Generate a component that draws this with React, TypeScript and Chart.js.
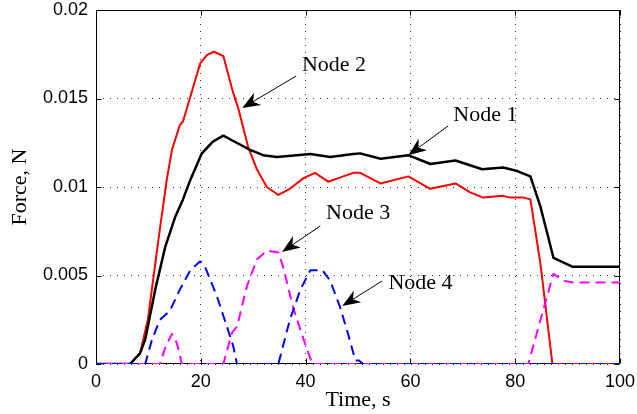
import React, { useEffect, useRef } from 'react';
import { Chart, registerables } from 'chart.js';

Chart.register(...registerables);

// ---- data ----
const xTicks = [0, 20, 40, 60, 80, 100];
const yTicks = [0, 0.005, 0.01, 0.015, 0.02];
const yTickLabels = ['0', '0.005', '0.01', '0.015', '0.02'];

const node1T = [0, 6.5, 8.4, 9.4, 11.3, 13.2, 15.1, 16.6, 18, 20.2, 22.3, 24.3, 26.2, 29.4, 31.9, 34.5, 38.3, 40.9, 44.7, 49.1, 50.4, 54.3, 59.6, 63.8, 68.6, 73.7, 77.7, 80.4, 82.9, 84.8, 86.1, 87.3, 90.9, 100];
const node1F = [0, 0, 0.0006, 0.0014, 0.0042, 0.0066, 0.0083, 0.0093, 0.0104, 0.0119, 0.01256, 0.0129, 0.0126, 0.0121, 0.0118, 0.0117, 0.0118, 0.01186, 0.0117, 0.01186, 0.0119, 0.0116, 0.0118, 0.0113, 0.0115, 0.011, 0.0111, 0.0109, 0.0106, 0.0089, 0.0074, 0.006, 0.0055, 0.0055];

const node2T = [0, 6.5, 8.4, 9.9, 11.9, 13.5, 14.5, 16, 16.6, 18, 19.9, 21.2, 22.5, 24.3, 26.2, 27.1, 29, 30.7, 32.6, 34.8, 37, 39.6, 41.8, 44.3, 47.2, 49.1, 50.4, 54.3, 59.6, 63.8, 68.6, 71.4, 73.9, 77.7, 79.1, 81.6, 82.9, 84.8, 86.1, 87.1, 100];
const node2F = [0, 0, 0.0006, 0.0025, 0.007, 0.0104, 0.0121, 0.0135, 0.0137, 0.0151, 0.017, 0.01746, 0.01764, 0.0174, 0.0153, 0.0145, 0.0123, 0.011, 0.01, 0.00955, 0.0099, 0.0105, 0.0108, 0.0103, 0.0106, 0.0108, 0.0108, 0.0102, 0.0106, 0.0099, 0.0102, 0.0097, 0.0094, 0.0095, 0.0094, 0.0094, 0.0093, 0.0057, 0.0025, 0, 0];

const node3T = [0, 12.2, 13.3, 14.5, 15.4, 16.4, 24.3, 26, 26.9, 28.8, 30.7, 32.6, 34.8, 35.7, 37.6, 39.6, 41.3, 82.5, 85.2, 87.3, 89.2, 91.1, 100];
const node3F = [0, 0, 0.001, 0.0017, 0.0012, 0, 0, 0.0018, 0.0021, 0.0044, 0.0059, 0.0064, 0.0063, 0.0055, 0.0032, 0.0014, 0, 0, 0.0029, 0.0051, 0.0047, 0.0046, 0.0046];

const node4T = [0, 9.4, 10.7, 12.2, 14.1, 16, 18, 19.9, 20.8, 23.1, 25, 26.2, 26.9, 34.8, 37, 39, 40.9, 43.2, 44.7, 46.6, 48.1, 49.5, 50.2, 51, 100];
const node4F = [0, 0, 0.0014, 0.0025, 0.003, 0.0042, 0.0053, 0.0058, 0.0055, 0.0038, 0.0021, 0.001, 0, 0, 0.0025, 0.0042, 0.0053, 0.0053, 0.0047, 0.0032, 0.0017, 0.0002, 0.0002, 0, 0];

// annotation labels (data coordinates)
const noteNames = ['Node 1', 'Node 2', 'Node 3', 'Node 4'];
const noteTextX = [68.2, 39.3, 43.9, 55.8];
const noteTextY = [0.01407, 0.0169, 0.00853, 0.00458];
const noteTailX = [67.2, 38.2, 42.8, 54.6];
const noteTailY = [0.01345, 0.01627, 0.0078, 0.00469];
const noteTipX = [59.6, 27.9, 35.5, 47.0];
const noteTipY = [0.0118, 0.01446, 0.00633, 0.00328];

const zip = (t: number[], f: number[]) => t.map((x, i) => ({ x, y: f[i] }));

const SERIF = '"Liberation Serif", "Times New Roman", serif';
const SANS = '"Liberation Sans", Arial, sans-serif';

const framePlugin = {
  id: 'frame',
  beforeDatasetsDraw(chart: any) {
    const { ctx, chartArea: a, scales } = chart;
    ctx.save();
    ctx.strokeStyle = '#000';
    ctx.lineWidth = 1;
    ctx.setLineDash([]);
    const L = Math.round(a.left) + 0.5, R = Math.round(a.right) - 0.5;
    const T = Math.round(a.top) + 0.5, B = Math.round(a.bottom) - 0.5;
    ctx.strokeRect(L, T, R - L, B - T);
    const tl = 5;
    ctx.beginPath();
    xTicks.forEach((v) => {
      const px = Math.round(scales.x.getPixelForValue(v)) + 0.5;
      ctx.moveTo(px, B); ctx.lineTo(px, B - tl);
      ctx.moveTo(px, T); ctx.lineTo(px, T + tl);
    });
    yTicks.forEach((v) => {
      const py = Math.round(scales.y.getPixelForValue(v)) + 0.5;
      ctx.moveTo(L, py); ctx.lineTo(L + tl, py);
      ctx.moveTo(R, py); ctx.lineTo(R - tl, py);
    });
    ctx.stroke();
    ctx.restore();
  },
  afterDatasetsDraw(chart: any) {
    const { ctx, scales } = chart;
    ctx.save();
    ctx.fillStyle = '#000';
    ctx.strokeStyle = '#000';
    ctx.font = `22px ${SERIF}`;
    ctx.textAlign = 'left';
    ctx.textBaseline = 'middle';
    noteNames.forEach((name, i) => {
      const tx = scales.x.getPixelForValue(noteTextX[i]);
      const ty = scales.y.getPixelForValue(noteTextY[i]);
      ctx.fillText(name, tx, ty);
      const x0 = scales.x.getPixelForValue(noteTailX[i]);
      const y0 = scales.y.getPixelForValue(noteTailY[i]);
      const x1 = scales.x.getPixelForValue(noteTipX[i]);
      const y1 = scales.y.getPixelForValue(noteTipY[i]);
      const ang = Math.atan2(y1 - y0, x1 - x0);
      const hl = 18, hw = 7, notch = 0.7;
      const ux = Math.cos(ang), uy = Math.sin(ang);
      const nx = -uy, ny = ux;
      const bx = x1 - ux * hl, by = y1 - uy * hl;
      const mx = x1 - ux * hl * notch, my = y1 - uy * hl * notch;
      ctx.lineWidth = 1;
      ctx.beginPath();
      ctx.moveTo(x0, y0);
      ctx.lineTo(mx, my);
      ctx.stroke();
      ctx.beginPath();
      ctx.moveTo(x1, y1);
      ctx.lineTo(bx + nx * hw, by + ny * hw);
      ctx.lineTo(mx, my);
      ctx.lineTo(bx - nx * hw, by - ny * hw);
      ctx.closePath();
      ctx.fill();
    });
    ctx.restore();
  },
};

export default function App() {
  const ref = useRef<HTMLCanvasElement | null>(null);
  useEffect(() => {
    const canvas = ref.current;
    if (!canvas) return;
    const chart = new Chart(canvas, {
      type: 'line',
      data: {
        datasets: [
          { label: 'Node 4', data: zip(node4T, node4F), borderColor: '#0000ff', borderWidth: 2, borderDash: [10, 6], pointRadius: 0, tension: 0, fill: false },
          { label: 'Node 3', data: zip(node3T, node3F), borderColor: '#ff00ff', borderWidth: 2, borderDash: [10, 6], borderDashOffset: 8, pointRadius: 0, tension: 0, fill: false },
          { label: 'Node 1', data: zip(node1T, node1F), borderColor: '#000000', borderWidth: 2.5, pointRadius: 0, tension: 0, fill: false },
          { label: 'Node 2', data: zip(node2T, node2F), borderColor: '#ff0000', borderWidth: 2, pointRadius: 0, tension: 0, fill: false },
        ],
      },
      options: {
        responsive: false,
        animation: false,
        devicePixelRatio: 1,
        layout: { padding: { left: 0, right: 17, top: 10, bottom: 0 } },
        plugins: { legend: { display: false }, tooltip: { enabled: false } },
        elements: { line: { borderCapStyle: 'butt', borderJoinStyle: 'round' } },
        scales: {
          x: {
            type: 'linear',
            min: 0,
            max: 100,
            afterBuildTicks: (s: any) => { s.ticks = xTicks.map((v) => ({ value: v })); },
            afterFit: (s: any) => { s.height = 50; s.paddingLeft = 0; s.paddingRight = 0; },
            ticks: { font: { family: SANS, size: 18 }, color: '#000', padding: 7, maxRotation: 0, autoSkip: false, callback: (v: any) => String(v) },
            grid: { color: '#333', lineWidth: 1, drawTicks: false },
            border: { display: false, dash: [1, 6] },
            title: { display: true, text: 'Time, s', color: '#000', font: { family: SERIF, size: 22 }, padding: { top: 1, bottom: 1 } },
          },
          y: {
            type: 'linear',
            min: 0,
            max: 0.02,
            afterBuildTicks: (s: any) => { s.ticks = yTicks.map((v) => ({ value: v })); },
            afterFit: (s: any) => { s.width = 96; s.paddingTop = 0; s.paddingBottom = 0; },
            ticks: { font: { family: SANS, size: 18 }, color: '#000', padding: 8, autoSkip: false, callback: (v: any) => { const i = yTicks.findIndex((t) => Math.abs(t - v) < 1e-9); return i >= 0 ? yTickLabels[i] : ''; } },
            grid: { color: '#333', lineWidth: 1, drawTicks: false },
            border: { display: false, dash: [1, 6] },
            title: { display: true, text: 'Force, N', color: '#000', font: { family: SERIF, size: 22 }, padding: { top: 7, bottom: 7 } },
          },
        },
      },
      plugins: [framePlugin],
    } as any);
    return () => chart.destroy();
  }, []);
  return (
    <div style={{ position: 'absolute', left: 0, top: 0, width: 637, height: 414, background: '#fff' }}>
      <canvas ref={ref} width={637} height={414} style={{ display: 'block' }} />
    </div>
  );
}
